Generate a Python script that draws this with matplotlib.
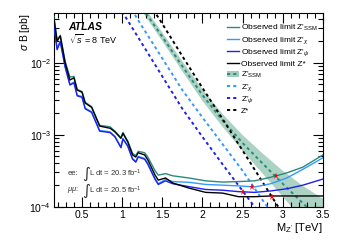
import numpy as np
import matplotlib
matplotlib.use("Agg")
import matplotlib.pyplot as plt
from matplotlib.ticker import MultipleLocator, LogLocator, NullFormatter, FixedLocator, FixedFormatter
from matplotlib.patches import Patch
from matplotlib.lines import Line2D

plt.rcParams['font.family'] = ['Liberation Sans', 'DejaVu Sans']
plt.rcParams['mathtext.fontset'] = 'custom'
plt.rcParams['mathtext.rm'] = 'Liberation Sans'
plt.rcParams['mathtext.it'] = 'Liberation Sans:italic'
plt.rcParams['mathtext.bf'] = 'Liberation Sans:bold'

# ---- observed limits (log10 sigma*B in pb) ----
mass_obs = [0.15, 0.19, 0.23, 0.29, 0.35, 0.40, 0.44, 0.50, 0.54, 0.62, 0.72, 0.85, 0.91, 0.985,
            1.01, 1.07, 1.13, 1.17, 1.20, 1.28, 1.32, 1.41, 1.45, 1.54, 1.63, 1.83, 2.04, 2.25,
            2.45, 2.65, 2.85, 3.05, 3.25, 3.5]
log_obs_zstar = [-1.38, -1.70, -1.63, -2.00, -2.24, -2.21, -2.38, -2.41, -2.56, -2.62, -2.88, -2.91,
                 -2.96, -3.05, -2.98, -3.10, -3.28, -3.31, -3.25, -3.28, -3.35, -3.56, -3.63, -3.60,
                 -3.67, -3.74, -3.80, -3.81, -3.86, -3.86, -3.85, -3.85, -3.85, -3.85]
log_obs_ssm = [-1.36, -1.68, -1.62, -1.98, -2.20, -2.19, -2.37, -2.40, -2.55, -2.61, -2.87, -2.89,
               -2.95, -3.04, -2.97, -3.09, -3.26, -3.29, -3.23, -3.25, -3.31, -3.50, -3.56, -3.54,
               -3.57, -3.60, -3.64, -3.657, -3.65, -3.64, -3.59, -3.53, -3.45, -3.28]
log_obs_chi = [-1.45, -1.80, -1.70, -2.05, -2.30, -2.27, -2.45, -2.47, -2.63, -2.68, -2.94, -2.96,
               -3.02, -3.17, -3.05, -3.15, -3.33, -3.37, -3.30, -3.33, -3.40, -3.61, -3.68, -3.62,
               -3.65, -3.66, -3.69, -3.70, -3.71, -3.725, -3.68, -3.60, -3.48, -3.32]
log_obs_psi = [-1.46, -1.82, -1.71, -2.06, -2.31, -2.28, -2.46, -2.48, -2.64, -2.69, -2.95, -2.97,
               -3.03, -3.18, -3.06, -3.16, -3.34, -3.38, -3.31, -3.34, -3.41, -3.62, -3.69, -3.64,
               -3.68, -3.72, -3.76, -3.77, -3.79, -3.80, -3.78, -3.75, -3.70, -3.615]

# ---- theory predictions ----
mass_th = [1.0, 1.25, 1.5, 1.75, 2.0, 2.25, 2.5, 2.75, 3.0, 3.25, 3.5]
log_th_ssm = [-0.92, -1.24, -1.64, -2.05, -2.45, -2.80, -3.115, -3.40, -3.68, -3.95, -4.22]
band_ssm = [0.05, 0.05, 0.06, 0.07, 0.08, 0.09, 0.11, 0.14, 0.18, 0.24, 0.33]
log_th_chi = [-1.05, -1.50, -1.94, -2.38, -2.76, -3.13, -3.50, -3.91, -4.3, -4.7, -5.1]
log_th_psi = [-1.29, -1.74, -2.19, -2.64, -3.03, -3.41, -3.78, -4.15, -4.55, -4.9, -5.3]
log_th_zstar = [-0.60, -1.02, -1.46, -1.91, -2.35, -2.78, -3.22, -3.66, -4.10, -4.5, -4.9]

# ---- intersections (mass limits) ----
star_mass = [2.91, 2.62, 2.51, 2.86]
star_log = [-3.574, -3.73, -3.80, -3.86]

c_ssm = '#2b8a7c'
c_chi = '#3399ff'
c_psi = '#1f1fee'
c_zs = '#000000'
c_band = '#a3cdbd'

fig = plt.figure(figsize=(3.41, 2.45), dpi=100)
ax = fig.add_axes([0.158, 0.156, 0.789, 0.791])

p = lambda a: 10 ** np.asarray(a, dtype=float)

mth = np.asarray(mass_th)
lssm = np.asarray(log_th_ssm)
bw = np.asarray(band_ssm)
ax.fill_between(mth, p(lssm - bw), p(lssm + bw), color=c_band, lw=0, alpha=0.9, zorder=1)

dot = (0, (1.6, 1.6))
ax.plot(mass_th, p(log_th_ssm), color=c_ssm, lw=1.4, ls=dot, zorder=2)
ax.plot(mass_th, p(log_th_chi), color=c_chi, lw=1.4, ls=dot, zorder=2)
ax.plot(mass_th, p(log_th_psi), color=c_psi, lw=1.4, ls=dot, zorder=2)
ax.plot(mass_th, p(log_th_zstar), color=c_zs, lw=1.4, ls=dot, zorder=2)

ax.plot(mass_obs, p(log_obs_ssm), color=c_ssm, lw=1.0, zorder=3)
ax.plot(mass_obs, p(log_obs_chi), color=c_chi, lw=1.0, zorder=3)
ax.plot(mass_obs, p(log_obs_psi), color=c_psi, lw=1.0, zorder=3)
ax.plot(mass_obs, p(log_obs_zstar), color=c_zs, lw=1.0, zorder=3)

ax.plot(star_mass, p(star_log), ls='none', marker='*', color='red', ms=5, mew=0, zorder=4)

ax.set_yscale('log')
ax.set_xlim(0.15, 3.5)
ax.set_ylim(1e-4, 0.049)

ax.xaxis.set_major_locator(FixedLocator([0.5, 1, 1.5, 2, 2.5, 3, 3.5]))
ax.xaxis.set_major_formatter(FixedFormatter(['0.5', '1', '1.5', '2', '2.5', '3', '3.5']))
ax.xaxis.set_minor_locator(MultipleLocator(0.1))
ax.yaxis.set_major_locator(LogLocator(base=10, numticks=10))
ax.yaxis.set_minor_locator(LogLocator(base=10, subs=np.arange(2, 10), numticks=20))
ax.yaxis.set_minor_formatter(NullFormatter())
ax.tick_params(which='both', direction='in', top=True, right=True, labelsize=7.5, width=0.8, pad=2)
ax.tick_params(which='major', length=7)
ax.tick_params(which='minor', length=3.5)
for s in ax.spines.values():
    s.set_linewidth(0.8)

ax.set_xlabel(r"M$_{\mathrm{Z'}}$ [TeV]", fontsize=8, loc='right', labelpad=1)
ax.set_ylabel(r"$\sigma$ B [pb]", fontsize=7.5, loc='top')
ax.yaxis.set_label_coords(-0.08, 1.0)

ax.text(0.052, 0.93, 'ATLAS', transform=ax.transAxes, fontsize=7.5, fontweight='bold',
        style='italic', va='center')
ax.text(0.055, 0.867, r'$\sqrt{s}$ = 8 TeV', transform=ax.transAxes, fontsize=6.5, va='center')

for y, lab, lum in [(0.174, 'ee:', '20.3'), (0.086, r'$\mu\mu$:', '20.5')]:
    ax.text(0.05, y, lab, transform=ax.transAxes, fontsize=5.5, va='center', color='#333333')
    ax.text(0.105, y, '\u222b', transform=ax.transAxes, fontsize=11, va='center',
            family=['DejaVu Sans'], color='#333333')
    ax.text(0.13, y, 'L dt = ' + lum + r' fb$^{-1}$', transform=ax.transAxes, fontsize=5.5,
            va='center', color='#333333')

handles = [
    Line2D([], [], color=c_ssm, lw=1.0),
    Line2D([], [], color=c_chi, lw=1.0),
    Line2D([], [], color=c_psi, lw=1.0),
    Line2D([], [], color=c_zs, lw=1.0),
    (Patch(facecolor=c_band, lw=0), Line2D([], [], color=c_ssm, lw=1.4, ls=dot)),
    Line2D([], [], color=c_chi, lw=1.4, ls=dot),
    Line2D([], [], color=c_psi, lw=1.4, ls=dot),
    Line2D([], [], color=c_zs, lw=1.4, ls=dot),
]
labels = [r"Observed limit Z$'_{\mathrm{SSM}}$", r"Observed limit Z$'_{\chi}$",
          r"Observed limit Z$'_{\psi}$", r"Observed limit Z*",
          r"Z$'_{\mathrm{SSM}}$", r"Z$'_{\chi}$", r"Z$'_{\psi}$", r"Z*"]
leg = ax.legend(handles, labels, loc='upper right', bbox_to_anchor=(1.0, 0.975), fontsize=6,
                frameon=False, handlelength=1.4, handletextpad=0.3, labelspacing=0.22,
                borderaxespad=0.2)

fig.savefig('out.png', dpi=100)
